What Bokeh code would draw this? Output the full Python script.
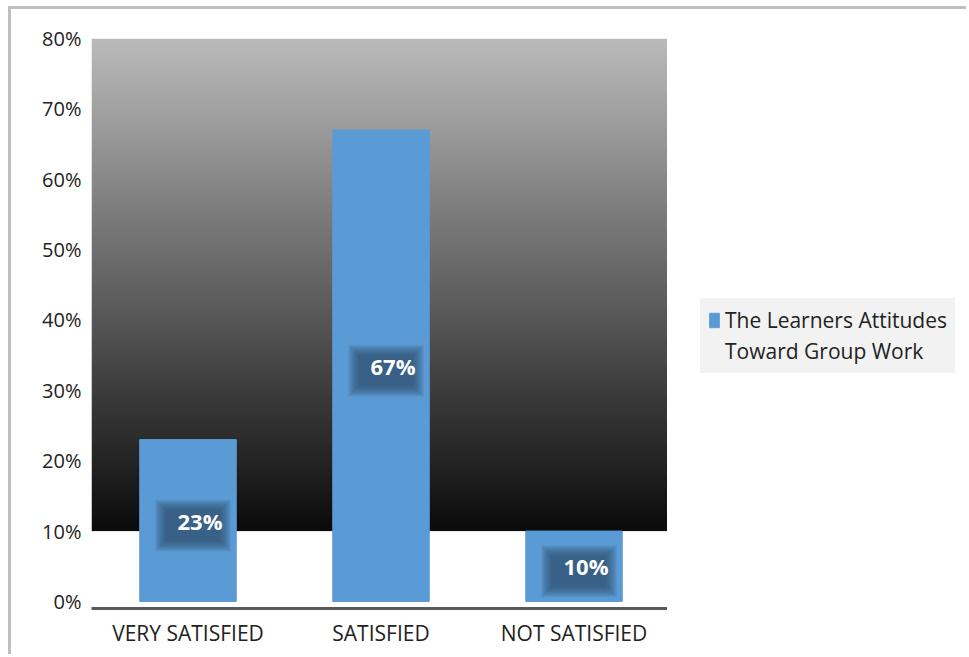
import numpy as np
from bokeh.plotting import figure
from bokeh.layouts import row
from bokeh.core.properties import value
from bokeh.models import (ColumnDataSource, FactorRange, Range1d, FixedTicker,
                          NumeralTickFormatter, LabelSet, Legend, LegendItem)
from bokeh.transform import dodge
from bokeh.embed import file_html
from bokeh.resources import INLINE

# ---- data ----
categories = ["VERY SATISFIED", "SATISFIED", "NOT SATISFIED"]
values = [0.23, 0.67, 0.10]
y_ticks = [0.0, 0.1, 0.2, 0.3, 0.4, 0.5, 0.6, 0.7, 0.8]
series_name_line1 = "The Learners Attitudes"
series_name_line2 = "Toward Group Work"

FONT = "Open Sans"
BAR = "#5B9BD5"
BORDER = "3px solid #bfbfbf"

# page offset of the canvas (outer chart border drawn by CSS)
OX, OY = 11, 9
RIGHT_W = 969 - 670
W, H = 670 - OX, 657 - OY
FL, FR, FT, FB = 91 - OX, 670 - OX, 38 - OY, 608 - OY

p = figure(width=W, height=H, x_range=FactorRange(*categories, range_padding=0),
           y_range=Range1d(-0.01, 0.80), output_backend="svg", toolbar_location=None,
           min_border_left=FL, min_border_right=0, min_border_top=FT,
           min_border_bottom=H - FB)
p.margin = (6, 0, 0, 8)
p.styles = {"border-top": BORDER, "border-left": BORDER}
p.outline_line_color = None
p.background_fill_color = "white"
p.border_fill_color = "white"
p.xgrid.visible = False
p.ygrid.visible = False

# gradient background (from 10% to 80%)
n = 256
top_c, bot_c = 187, 11
shades = np.linspace(bot_c, top_c, n).astype(np.uint32)
img = np.zeros((n, 1), dtype=np.uint32)
img[:, 0] = (255 << 24) | (shades << 16) | (shades << 8) | shades
p.image_rgba(image=[img], x=0, y=0.10, dw=3, dh=0.70)

src = ColumnDataSource(dict(
    cat=categories,
    val=values,
    mid=[v / 2 for v in values],
    lab=["%d%%" % round(v * 100) for v in values],
))

bars = p.vbar(x="cat", top="val", width=0.5, source=src, fill_color=BAR,
              line_color=BAR)

# soft shadow boxes behind data labels
px_x = 3.0 / (FR - FL)
px_y = 0.81 / (FB - FT)
for k in range(12):
    w, h = 76 - 2 * k, 52 - 2 * k
    p.rect(x=dodge("cat", 5 * px_x, range=p.x_range),
           y=dodge("mid", -5 * px_y), width=w, height=h,
           width_units="screen", height_units="screen", source=src,
           fill_color="#2f4f70", fill_alpha=0.1, line_color=None)

labels = LabelSet(x="cat", y="mid", text="lab", source=src, x_offset=12,
                  text_align="center", text_baseline="middle",
                  text_color="white", text_font=value(FONT),
                  text_font_size="22px", text_font_style="bold")
p.add_layout(labels)

# axes
p.yaxis.ticker = FixedTicker(ticks=y_ticks)
p.yaxis.formatter = NumeralTickFormatter(format="0%")
p.yaxis.axis_line_color = None
p.yaxis.major_tick_line_color = None
p.yaxis.minor_tick_line_color = None
p.yaxis.major_label_text_font = FONT
p.yaxis.major_label_text_font_size = "20px"
p.yaxis.major_label_text_color = "#222222"
p.yaxis.major_label_standoff = 4

p.xaxis.axis_line_color = "#595959"
p.xaxis.axis_line_width = 3
p.xaxis.major_tick_line_color = None
p.xaxis.minor_tick_line_color = None
p.xaxis.major_label_text_font = FONT
p.xaxis.major_label_text_font_size = "21px"
p.xaxis.major_label_text_color = "#222222"
p.xaxis.major_label_standoff = 4

# ---- legend panel (right side) ----
q = figure(width=RIGHT_W, height=H, x_range=Range1d(0, RIGHT_W),
           y_range=Range1d(0, H), output_backend="svg", toolbar_location=None,
           min_border=0)
q.margin = (6, 0, 0, 0)
q.styles = {"border-top": BORDER}
q.axis.visible = False
q.grid.visible = False
q.outline_line_color = None
q.background_fill_color = "white"
q.border_fill_color = "white"

# zero-size stand-in renderers that only supply the legend swatch style
swatch = q.vbar(x=[0], top=[0], bottom=[0], width=0, fill_color=BAR, line_color=BAR)
ghost = q.vbar(x=[0], top=[0], bottom=[0], width=0, fill_alpha=0, line_alpha=0)
legend = Legend(items=[LegendItem(label=series_name_line1, renderers=[swatch]),
                       LegendItem(label=series_name_line2, renderers=[ghost])],
                location=(703 - 670, 608 - 373))
legend.background_fill_color = "#f2f2f2"
legend.background_fill_alpha = 1
legend.border_line_alpha = 0
legend.label_text_font = FONT
legend.label_text_font_size = "21px"
legend.label_text_color = "#222222"
legend.glyph_width = 12
legend.glyph_height = 18
legend.label_height = 24
legend.label_standoff = 5
legend.spacing = 3
legend.padding = 8
legend.margin = 0
q.add_layout(legend, "center")

layout = row(p, q, spacing=0)
open("out.html", "w").write(file_html(layout, INLINE))
